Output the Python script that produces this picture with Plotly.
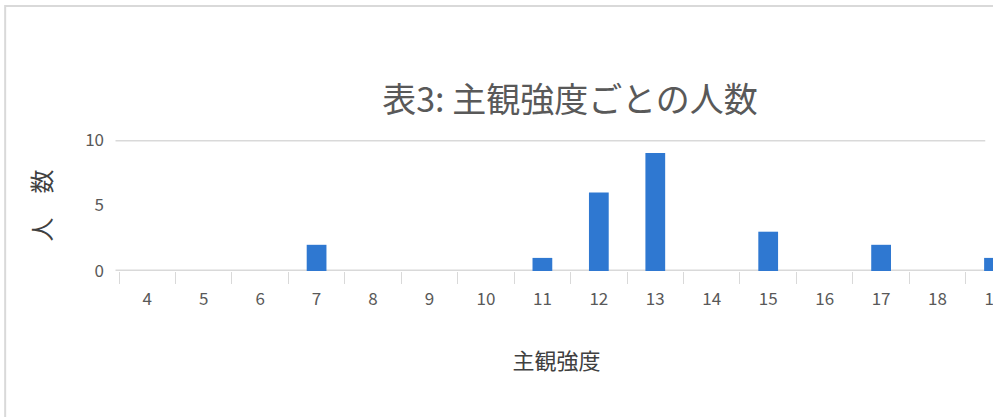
import plotly.graph_objects as go

categories = ["4", "5", "6", "7", "8", "9", "10", "11", "12", "13", "14", "15", "16", "17", "18", "19"]
counts = [0, 0, 0, 2, 0, 0, 0, 1, 6, 9, 0, 3, 0, 2, 0, 1]
y_ticks = [0, 5, 10]
title_text = "表3: 主観強度ごとの人数"
x_title = "主観強度"
y_title = "人　数"

W, H = 1003, 417
L, R, T, B = 119, 0, 140, 146
pw = W - L - R
ph = H - T - B

fig = go.Figure()
fig.add_trace(go.Bar(x=categories, y=counts, marker=dict(color="#2F78D1", line=dict(width=0)), width=0.35))

# Gridlines only at 0 and 10 (as in reference)
for v in [0, 10]:
    fig.add_shape(type="line", xref="paper", yref="y", x0=-0.004, x1=0.99, y0=v, y1=v,
                  line=dict(color="#D9D9D9", width=3), layer="below")

# chart-area border
fig.add_shape(type="rect", xref="paper", yref="paper",
              x0=(4 - L) / pw, x1=(W + 20 - L) / pw,
              y0=-(B + 20) / ph, y1=(ph + T - 6) / ph,
              line=dict(color="#D9D9D9", width=2), fillcolor="rgba(0,0,0,0)", layer="below")

fig.update_layout(
    width=W, height=H, autosize=False,
    margin=dict(l=L, r=R, t=T, b=B, pad=0),
    paper_bgcolor="white", plot_bgcolor="white",
    showlegend=False,
    font=dict(family="Noto Sans CJK JP, Noto Sans, sans-serif", color="#595959"),
    title=dict(text=title_text, x=570 / W, xanchor="center", y=1 - 100 / H, yanchor="middle",
               font=dict(size=34, color="#595959")),
    xaxis=dict(
        type="category", range=[-0.5, 15.0],
        showgrid=False, zeroline=False, showline=False,
        ticks="outside", ticklen=12, tickcolor="#D9D9D9", tickwidth=1,
        tickson="boundaries", ticklabelstandoff=16,
        tickfont=dict(size=17, color="#595959"),
        title=dict(text=x_title, font=dict(size=22, color="#404040"), standoff=44),
    ),
    yaxis=dict(
        range=[0, 10], tickvals=y_ticks, showgrid=False, zeroline=False, showline=False,
        ticks="", tickfont=dict(size=17, color="#595959"), ticklabelstandoff=14,
        title=dict(text=y_title, font=dict(size=24, color="#404040"), standoff=26),
    ),
)

fig.write_html("out.html")
